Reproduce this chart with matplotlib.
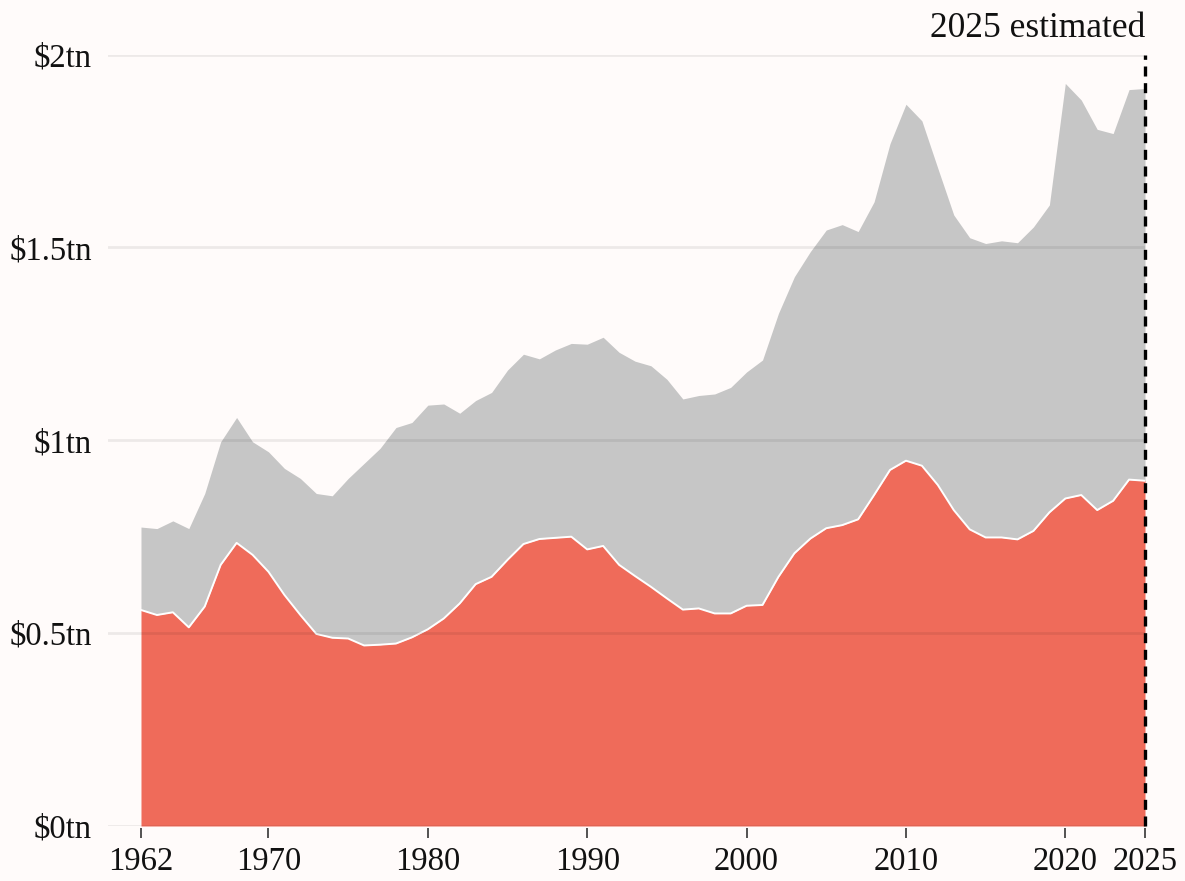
import matplotlib
matplotlib.use("Agg")
import matplotlib.pyplot as plt
import numpy as np

years = list(range(1962, 2026))

defense = [0.560, 0.547, 0.554, 0.515, 0.569, 0.677, 0.734, 0.703, 0.659, 0.599,
           0.547, 0.498, 0.488, 0.486, 0.468, 0.470, 0.473, 0.489, 0.510, 0.538,
           0.577, 0.627, 0.646, 0.690, 0.731, 0.744, 0.747, 0.750, 0.717, 0.726,
           0.677, 0.648, 0.620, 0.590, 0.561, 0.564, 0.551, 0.551, 0.571, 0.573,
           0.646, 0.707, 0.745, 0.772, 0.780, 0.795, 0.858, 0.923, 0.947, 0.934,
           0.884, 0.819, 0.769, 0.748, 0.748, 0.743, 0.765, 0.813, 0.849, 0.858,
           0.819, 0.843, 0.898, 0.895]

total = [0.775, 0.771, 0.791, 0.771, 0.862, 0.996, 1.059, 0.996, 0.970, 0.927,
         0.901, 0.862, 0.856, 0.901, 0.940, 0.979, 1.033, 1.046, 1.091, 1.094,
         1.070, 1.103, 1.124, 1.182, 1.223, 1.211, 1.234, 1.251, 1.249, 1.267,
         1.228, 1.205, 1.193, 1.158, 1.107, 1.116, 1.120, 1.137, 1.177, 1.208,
         1.329, 1.424, 1.489, 1.545, 1.559, 1.541, 1.618, 1.769, 1.871, 1.828,
         1.705, 1.584, 1.525, 1.510, 1.517, 1.512, 1.553, 1.610, 1.925, 1.882,
         1.806, 1.795, 1.909, 1.912]

x_ticks = [1962, 1970, 1980, 1990, 2000, 2010, 2020, 2025]
y_ticks = [0, 0.5, 1, 1.5, 2]
y_labels = ["$0tn", "$0.5tn", "$1tn", "$1.5tn", "$2tn"]
annotation = "2025 estimated"

BG = "#fffbfa"
RED = "#ef6b5a"
GRAY = "#c6c6c6"

plt.rcParams["font.family"] = ["Liberation Serif", "DejaVu Serif"]

fig = plt.figure(figsize=(11.85, 8.81), dpi=100, facecolor=BG)
ax = fig.add_axes([108 / 1185, 1 - 826 / 881, (1145 - 108) / 1185, (826 - 54.5) / 881])
ax.set_facecolor(BG)

x = np.array(years)
d = np.array(defense)
t = np.array(total)

ax.fill_between(x, d, t, color=GRAY, linewidth=0, zorder=2)
ax.fill_between(x, 0, d, color=RED, linewidth=0, zorder=3)
ax.plot(x, d, color="white", linewidth=1.4, zorder=4)

for yv in y_ticks:
    ax.axhline(yv, color="black", alpha=0.07, linewidth=2, zorder=5)

ax.axvline(2025, ymin=0, ymax=1, color="black", linewidth=2.4,
           linestyle=(0, (3, 2)), zorder=6, clip_on=False)

ax.set_xlim(1959.93, 2025)
ax.set_ylim(0, 2)

ax.set_yticks(y_ticks)
ax.set_yticklabels(y_labels)
ax.set_xticks(x_ticks)
ax.set_xticklabels([str(v) for v in x_ticks])

for s in ax.spines.values():
    s.set_visible(False)
ax.spines["bottom"].set_position(("outward", 1.5))

ax.tick_params(axis="y", length=0, pad=11.5, labelsize=23.5, labelcolor="#111111")
ax.tick_params(axis="x", length=7, width=1.3, color="#444444", pad=6,
               labelsize=23.5, labelcolor="#111111")

ax.text(2025, 2.046, annotation, ha="right", va="baseline", fontsize=25.5,
        color="#111111", transform=ax.transData)

fig.savefig("out.png", dpi=100, facecolor=BG)
